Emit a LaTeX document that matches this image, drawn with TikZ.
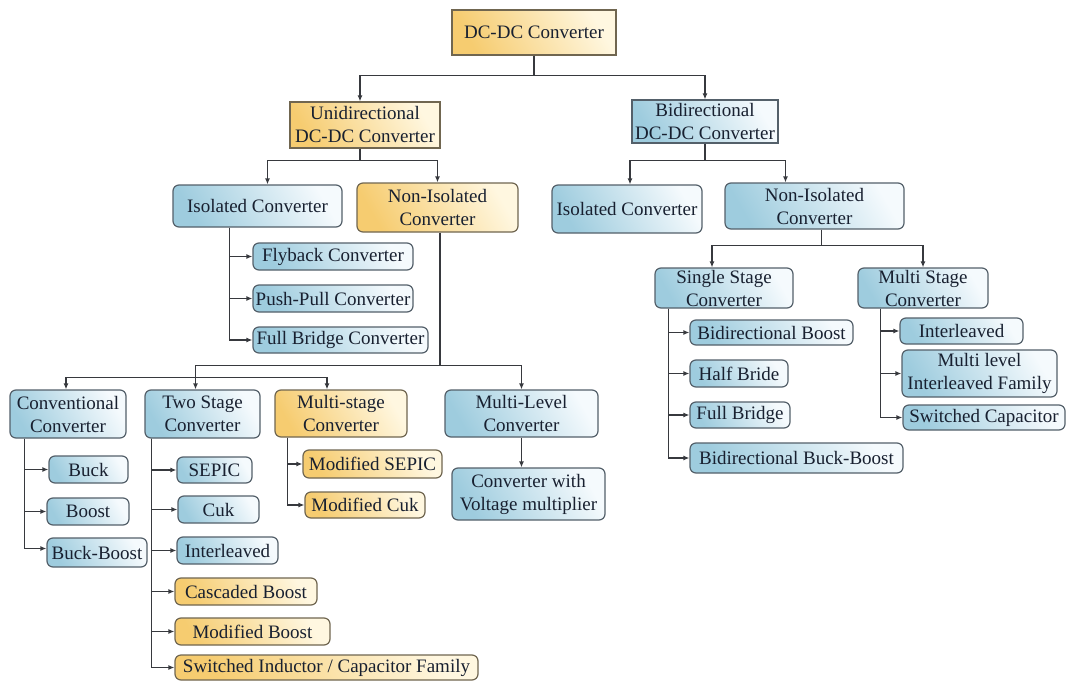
\documentclass[tikz,border=0pt]{standalone}
\usepackage{fontspec}
\setmainfont{Liberation Serif}
\usetikzlibrary{arrows.meta,calc}
\definecolor{bdk}{RGB}{158,204,222}
\definecolor{blt}{RGB}{245,250,253}
\definecolor{ydk}{RGB}{246,204,112}
\definecolor{ylt}{RGB}{255,247,224}
\definecolor{edge}{RGB}{84,96,106}
\definecolor{yedge}{RGB}{112,102,80}
\definecolor{lnc}{RGB}{55,57,62}
\definecolor{txt}{RGB}{24,32,48}
\begin{document}
\begin{tikzpicture}[x=1pt,y=-1pt,
  base/.style={draw=edge, line width=1.2pt, inner sep=0pt, align=center,
    font=\fontsize{19}{23}\selectfont, text=txt},
  bluebox/.style={base, rounded corners=6pt, top color=bdk, bottom color=blt, shading angle=120},
  yelbox/.style={base, draw=yedge, rounded corners=6pt, top color=ydk, bottom color=ylt, shading angle=120},
  bluesq/.style={base, top color=bdk, bottom color=blt, shading angle=120},
  yelsq/.style={base, draw=yedge, top color=ydk, bottom color=ylt, shading angle=120},
  conn/.style={draw=lnc, line width=1.2pt, -{Latex[length=6pt,width=5pt]}},
  trunk/.style={draw=lnc, line width=1.2pt}
]
\useasboundingbox (0,0) rectangle (1067,682);
\fill[white] (0,0) rectangle (1067,682);

% level 0-1
\node[yelsq, minimum width=164pt, minimum height=45pt] (top) at (534,32.5) {DC-DC Converter};
\node[yelsq, minimum width=150pt, minimum height=46pt] (uni) at (365,125) {Unidirectional\\DC-DC Converter};
\node[bluesq, minimum width=146pt, minimum height=43pt] (bi) at (705,121.5) {Bidirectional\\DC-DC Converter};

% level 2
\node[bluebox, minimum width=169pt, minimum height=42pt] (isoA) at (257.5,206) {Isolated Converter};
\node[yelbox, minimum width=161pt, minimum height=49pt] (nisoA) at (437.5,207.5) {Non-Isolated\\Converter};
\node[bluebox, minimum width=150pt, minimum height=48pt] (isoB) at (627,209) {Isolated Converter};
\node[bluebox, minimum width=179pt, minimum height=46pt] (nisoB) at (814.5,206) {Non-Isolated\\Converter};

% isolated (uni) children
\node[bluebox, minimum width=160pt, minimum height=27pt] (fly) at (333,256.5) {Flyback Converter};
\node[bluebox, minimum width=160pt, minimum height=27pt] (pp) at (333,298.5) {Push-Pull Converter};
\node[bluebox, minimum width=175pt, minimum height=26pt] (fb) at (340.5,340) {Full Bridge Converter};

% non-isolated (uni) children
\node[bluebox, minimum width=116pt, minimum height=48pt] (conv) at (68,414) {Conventional\\Converter};
\node[bluebox, minimum width=115pt, minimum height=48pt] (two) at (202.5,414) {Two Stage\\Converter};
\node[yelbox, minimum width=132pt, minimum height=47pt] (ms) at (341,413.5) {Multi-stage\\Converter};
\node[bluebox, minimum width=153pt, minimum height=47pt] (ml) at (521.5,413.5) {Multi-Level\\Converter};

\node[bluebox, minimum width=79pt, minimum height=27pt] (buck) at (88.5,469.5) {Buck};
\node[bluebox, minimum width=82pt, minimum height=27pt] (boost) at (88,511.5) {Boost};
\node[bluebox, minimum width=100pt, minimum height=29pt] (bb) at (97,552.5) {Buck-Boost};

\node[bluebox, minimum width=75pt, minimum height=26pt] (sepic) at (214.5,470) {SEPIC};
\node[bluebox, minimum width=81pt, minimum height=27pt] (cuk) at (218.5,509.5) {Cuk};
\node[bluebox, minimum width=101pt, minimum height=27pt] (intA) at (227.5,550.5) {Interleaved};
\node[yelbox, minimum width=142pt, minimum height=27pt] (casc) at (246,591.5) {Cascaded Boost};
\node[yelbox, minimum width=155pt, minimum height=27pt] (modb) at (252.5,631.5) {Modified Boost};
\node[yelbox, minimum width=303pt, minimum height=25pt] (sw) at (326.5,667.5) {Switched Inductor / Capacitor Family};

\node[yelbox, minimum width=139pt, minimum height=28pt] (msep) at (372.5,464) {Modified SEPIC};
\node[yelbox, minimum width=120pt, minimum height=26pt] (mcuk) at (365,505) {Modified Cuk};

\node[bluebox, minimum width=153pt, minimum height=52pt] (cvm) at (528.5,494) {Converter with\\Voltage multiplier};

% bidirectional non-isolated children
\node[bluebox, minimum width=138pt, minimum height=40pt] (ss) at (724,288) {Single Stage\\Converter};
\node[bluebox, minimum width=130pt, minimum height=40pt] (mst) at (923,288) {Multi Stage\\Converter};

\node[bluebox, minimum width=163pt, minimum height=25pt] (bib) at (771.5,332.5) {Bidirectional Boost};
\node[bluebox, minimum width=98pt, minimum height=27pt] (hb) at (739,373.5) {Half Bride};
\node[bluebox, minimum width=100pt, minimum height=26pt] (fbr) at (740,415) {Full Bridge};
\node[bluebox, minimum width=213pt, minimum height=30pt] (bibb) at (796.5,458) {Bidirectional Buck-Boost};

\node[bluebox, minimum width=123pt, minimum height=26pt] (intB) at (961.5,331) {Interleaved};
\node[bluebox, minimum width=155pt, minimum height=47pt] (mlif) at (979.5,373.5) {Multi level\\Interleaved Family};
\node[bluebox, minimum width=162pt, minimum height=25pt] (swc) at (984,417.5) {Switched Capacitor};

% ---- connectors ----
\draw[conn] (top.south) -- ++(0,20) -| ([xshift=-5pt]uni.north);
\draw[conn] (top.south) -- ++(0,20) -| (bi.north);

\draw[conn] ([xshift=-5pt]uni.south) -- ++(0,12) -| ([xshift=10pt]isoA.north);
\draw[conn] ([xshift=-5pt]uni.south) -- ++(0,12) -| (nisoA.north);

\draw[conn] (bi.south) -- ++(0,17) -| ([xshift=3pt]isoB.north);
\draw[conn] (bi.south) -- ++(0,17) -| ([xshift=-29pt]nisoB.north);

\draw[conn] ([xshift=7pt]nisoB.south) -- ++(0,16) -| ([xshift=-12pt]ss.north);
\draw[conn] ([xshift=7pt]nisoB.south) -- ++(0,16) -| (mst.north);

% isolated uni trunk
\path (isoA.south west) ++(57,0) coordinate (tA);
\draw[conn] (tA) |- (fly.west);
\draw[conn] (tA) |- (pp.west);
\draw[conn] (tA) |- (fb.west);

% non-isolated uni buses
\path ([xshift=2.5pt]nisoA.south) ++(0,133) coordinate (bus1);
\draw[trunk] ([xshift=2.5pt]nisoA.south) -- (bus1);
\draw[conn] (bus1) -| ([xshift=-7pt]two.north);
\draw[conn] (bus1) -| (ml.north);
\path ([xshift=-7pt,yshift=12pt]two.north) coordinate (bus2);
\draw[conn] (bus2) -| ([xshift=-2pt]conv.north);
\draw[conn] (bus2) -| ([xshift=-14pt]ms.north);

% conventional trunk
\path (conv.south west) ++(15,0) coordinate (tC);
\draw[conn] (tC) |- (buck.west);
\draw[conn] (tC) |- (boost.west);
\draw[conn] (tC) |- ([yshift=4pt]bb.west);

% two stage trunk
\path (two.south west) ++(7,0) coordinate (tT);
\draw[conn] (tT) |- (sepic.west);
\draw[conn] (tT) |- (cuk.west);
\draw[conn] (tT) |- (intA.west);
\draw[conn] (tT) |- (casc.west);
\draw[conn] (tT) |- (modb.west);
\draw[conn] (tT) |- (sw.west);

% multi-stage trunk
\path (ms.south west) ++(13,0) coordinate (tM);
\draw[conn] (tM) |- (msep.west);
\draw[conn] (tM) |- (mcuk.west);

% multi-level
\draw[conn] (ml.south) -- (ml.south |- cvm.north);

% single stage trunk
\path (ss.south west) ++(14,0) coordinate (tS);
\draw[conn] (tS) |- (bib.west);
\draw[conn] (tS) |- (hb.west);
\draw[conn] (tS) |- (fbr.west);
\draw[conn] (tS) |- (bibb.west);

% multi stage trunk
\path (mst.south west) ++(23,0) coordinate (tU);
\draw[conn] (tU) |- (intB.west);
\draw[conn] (tU) |- (mlif.west);
\draw[conn] (tU) |- (swc.west);
\end{tikzpicture}
\end{document}
